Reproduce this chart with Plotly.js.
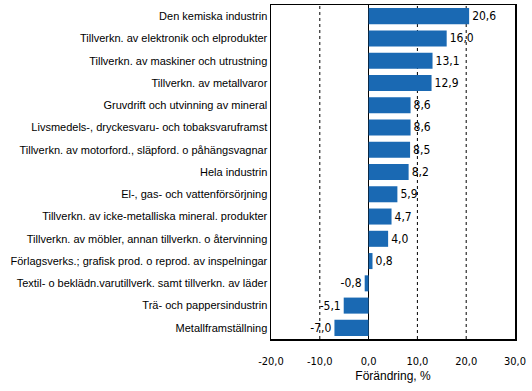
<!DOCTYPE html>
<html>
<head>
<meta charset="utf-8">
<script src="https://cdn.plot.ly/plotly-3.0.1.min.js"></script>
<style>html,body{margin:0;padding:0;background:#fff;}#chart{width:532px;height:391px;}</style>
</head>
<body>
<div id="chart"></div>
<script>
var categories = [
  "Den kemiska industrin",
  "Tillverkn. av elektronik och elprodukter",
  "Tillverkn. av maskiner och utrustning",
  "Tillverkn. av metallvaror",
  "Gruvdrift och utvinning av mineral",
  "Livsmedels-, dryckesvaru- och tobaksvaruframst",
  "Tillverkn. av motorford., släpford. o påhängsvagnar",
  "Hela industrin",
  "El-, gas- och vattenförsörjning",
  "Tillverkn. av icke-metalliska mineral. produkter",
  "Tillverkn. av möbler, annan tillverkn. o återvinning",
  "Förlagsverks.; grafisk prod. o reprod. av inspelningar",
  "Textil- o beklädn.varutillverk. samt tillverkn. av läder",
  "Trä- och pappersindustrin",
  "Metallframställning"
];
var values = [20.6, 16.0, 13.1, 12.9, 8.6, 8.6, 8.5, 8.2, 5.9, 4.7, 4.0, 0.8, -0.8, -5.1, -7.0];
var tickValues = [-20, -10, 0, 10, 20, 30];
var tickLabels = ["-20,0", "-10,0", "0,0", "10,0", "20,0", "30,0"];
var gridValues = [-10, 10, 20];

var labels = values.map(function(v){ return v.toFixed(1).replace('.', ','); });

var narrow = 'DejaVu Sans Condensed, Liberation Sans Narrow, Arial Narrow, sans-serif';

var shapes = gridValues.map(function(g){
  return {type:'line', xref:'x', yref:'paper', x0:g, x1:g, y0:0, y1:1,
          line:{color:'#000', width:1, dash:'3px,3px'}, layer:'below'};
});

var trace = {
  type:'bar', orientation:'h',
  x: values, y: categories,
  marker:{color:'#1a69b3'},
  text: labels, textposition:'outside', cliponaxis:false,
  textfont:{family:narrow, size:12, color:'#000'},
  hoverinfo:'none'
};

var layout = {
  width:532, height:391,
  margin:{l:271, r:17, t:5, b:52},
  paper_bgcolor:'#fff', plot_bgcolor:'#fff',
  showlegend:false,
  bargap:0.28,
  shapes: shapes,
  xaxis:{
    range:[-20, 30], tickvals: tickValues, ticktext: tickLabels,
    showgrid:false, zeroline:true, zerolinecolor:'#000', zerolinewidth:1,
    showline:true, mirror:true, linecolor:'#000', linewidth:1.5,
    ticks:'', ticklen:0, ticklabelstandoff:11,
    tickfont:{family:narrow, size:11, color:'#000'},
    title:{text:'Förändring, %', font:{family:'Liberation Sans, Arial, sans-serif', size:12, color:'#000'}, standoff:5}
  },
  yaxis:{
    autorange:'reversed', showgrid:false, zeroline:false,
    showline:true, mirror:true, linecolor:'#000', linewidth:1.5,
    ticks:'', ticklen:0,
    tickfont:{family:'Liberation Sans, Arial, sans-serif', size:11, color:'#000'}
  }
};

Plotly.newPlot('chart', [trace], layout, {staticPlot:true, displayModeBar:false});
</script>
</body>
</html>
